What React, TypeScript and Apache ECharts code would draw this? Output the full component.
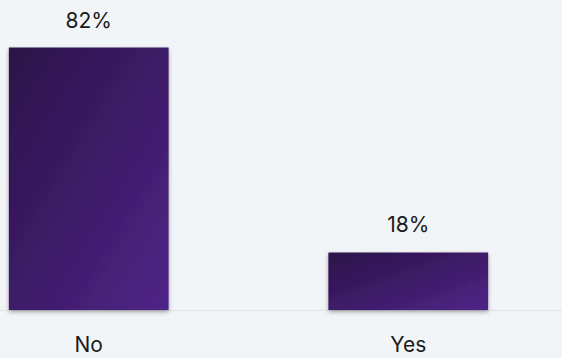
import React, { useEffect, useRef } from "react";
import * as echarts from "echarts";

const categories = ["No", "Yes"];
const values = [82, 18];

export default function App() {
  const ref = useRef<HTMLDivElement>(null);
  useEffect(() => {
    const chart = echarts.init(ref.current!, null, { renderer: "svg" });
    chart.setOption({
      animation: false,
      backgroundColor: "#f2f5f7",
      textStyle: { fontFamily: "Inter, 'Noto Sans', sans-serif" },
      grid: { left: 0, right: 0, top: 22, bottom: 48, containLabel: false },
      xAxis: {
        type: "category",
        data: categories,
        axisLine: { show: true, lineStyle: { color: "#e3e3e6", width: 1 } },
        axisTick: { show: false },
        axisLabel: { color: "#1a1a1a", fontSize: 21, margin: 24 },
      },
      yAxis: {
        type: "value",
        min: 0,
        max: 90,
        show: false,
        splitLine: { show: false },
      },
      series: [
        {
          type: "bar",
          data: values,
          barWidth: "50%",
          itemStyle: {
            color: new echarts.graphic.LinearGradient(0, 0, 1, 1, [
              { offset: 0, color: "#2b1249" },
              { offset: 1, color: "#4f2587" },
            ]),
            shadowColor: "rgba(0,0,0,0.35)",
            shadowBlur: 4,
            shadowOffsetY: 2,
          },
          label: {
            show: true,
            position: "top",
            distance: 17,
            formatter: "{c}%",
            color: "#1a1a1a",
            fontSize: 21,
          },
        },
      ],
    });
    return () => chart.dispose();
  }, []);
  return (
    <div
      ref={ref}
      style={{ position: "fixed", left: -71, top: 0, width: 639, height: 358 }}
    />
  );
}
